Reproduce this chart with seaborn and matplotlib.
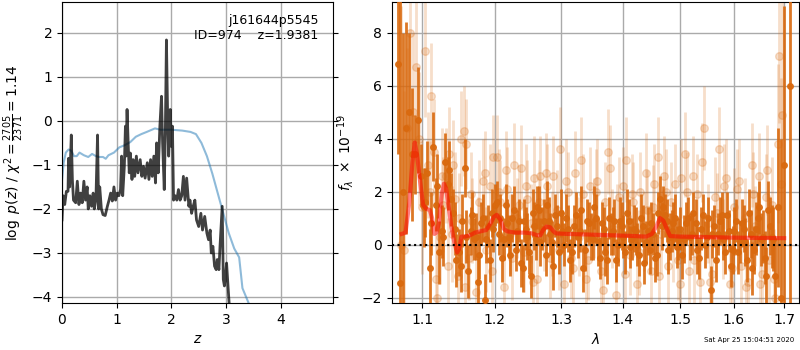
import numpy as np
import pandas as pd
import seaborn as sns
import matplotlib
matplotlib.use('Agg')
import matplotlib.pyplot as plt
from matplotlib.ticker import FixedLocator, FormatStrFormatter, NullLocator

# p(z) curve (log)
z_fit = [0.0, 0.02, 0.05, 0.08, 0.11, 0.12, 0.14, 0.17, 0.19, 0.21, 0.25, 0.28, 0.31, 0.34,
         0.37, 0.40, 0.43, 0.46, 0.48, 0.51, 0.54, 0.57, 0.59, 0.62, 0.65, 0.67, 0.69, 0.72,
         0.75, 0.79, 0.83, 0.86, 0.89, 0.92, 0.95, 0.98, 1.01, 1.04, 1.07, 1.09, 1.11, 1.14,
         1.16, 1.17, 1.19, 1.21, 1.23, 1.25, 1.28, 1.30, 1.33, 1.36, 1.39, 1.43, 1.46, 1.49,
         1.52, 1.56, 1.59, 1.62, 1.65, 1.68, 1.71, 1.73, 1.76, 1.79, 1.82, 1.84, 1.87, 1.89,
         1.91, 1.93, 1.95, 1.98, 2.00, 2.02, 2.04, 2.07, 2.10, 2.13, 2.16, 2.19, 2.22, 2.25,
         2.28, 2.32, 2.34, 2.37, 2.40, 2.43, 2.46, 2.50, 2.54, 2.57, 2.61, 2.65, 2.68, 2.71,
         2.73, 2.76, 2.79, 2.82, 2.84, 2.87, 2.89, 2.93, 2.95, 2.97, 2.99, 3.01, 3.04, 3.06,
         3.10, 3.30, 3.60, 4.00, 4.50, 4.95]
logpz = [-2.25, -1.70, -1.90, -1.60, -1.60, -0.85, -1.50, -0.32, -1.34, -1.80, -1.86, -1.37,
         -1.90, -1.64, -1.86, -1.37, -1.80, -1.50, -2.00, -1.70, -1.94, -1.64, -2.00, -1.80,
         -0.32, -2.00, -1.50, -2.00, -2.13, -2.15, -1.94, -1.80, -1.64, -1.82, -1.50, -1.80,
         -1.64, -1.70, -1.56, -0.80, -1.70, -1.03, -0.12, -0.80, 0.26, -0.50, -1.18, -0.73,
         -1.33, -0.88, -1.26, -0.80, -1.18, -0.88, -1.26, -1.03, -1.30, -0.95, -1.33, -0.88,
         -1.26, -0.80, -1.41, -0.50, -1.18, -0.12, 0.56, -0.50, -1.56, -0.27, 1.84, 0.26,
         -0.80, 0.26, -0.58, -0.12, -1.80, -1.70, -1.80, -1.56, -1.80, -1.70, -1.26, -1.80,
         -1.30, -1.94, -1.80, -2.10, -1.94, -1.80, -2.25, -2.40, -2.10, -2.48, -2.17, -2.55,
         -2.70, -2.48, -3.00, -2.85, -3.30, -3.38, -3.15, -3.38, -2.85, -1.94, -3.60, -3.75,
         -3.53, -3.23, -3.83, -4.20, -4.60, -5.50, -6.50, -7.50, -8.50, -9.50]

# smooth prior-like curve
z_prior = [0.0, 0.03, 0.07, 0.12, 0.17, 0.22, 0.27, 0.32, 0.40, 0.48, 0.55, 0.62, 0.68, 0.75,
           0.80, 0.85, 0.95, 1.05, 1.15, 1.25, 1.35, 1.45, 1.55, 1.70, 1.80, 2.00, 2.20, 2.35,
           2.45, 2.55, 2.65, 2.75, 2.85, 2.95, 3.05, 3.15, 3.24, 3.30, 3.40, 3.50, 4.00, 4.95]
logprior = [-1.35, -0.95, -0.72, -0.65, -0.68, -0.80, -0.80, -0.72, -0.78, -0.82, -0.75, -0.80,
            -0.82, -0.82, -0.86, -0.78, -0.72, -0.60, -0.55, -0.48, -0.36, -0.30, -0.25, -0.17,
            -0.20, -0.20, -0.22, -0.25, -0.30, -0.50, -0.80, -1.20, -1.65, -2.10, -2.55, -2.90,
            -3.10, -3.80, -4.10, -4.40, -5.60, -7.00]

# binned spectrum, first set
lam_bin = [1.068, 1.071, 1.075, 1.079, 1.083, 1.087, 1.090, 1.094, 1.098, 1.102, 1.106, 1.110,
           1.114, 1.118, 1.122, 1.126, 1.130, 1.134, 1.138, 1.142, 1.146, 1.150, 1.154, 1.158,
           1.162, 1.166, 1.171, 1.176, 1.181, 1.186, 1.191, 1.196, 1.201, 1.206, 1.211, 1.216,
           1.221, 1.226, 1.231, 1.236, 1.241, 1.246, 1.251, 1.256, 1.261, 1.266, 1.271, 1.276,
           1.281, 1.286, 1.291, 1.296, 1.302, 1.308, 1.314, 1.320, 1.326, 1.332, 1.338, 1.344,
           1.350, 1.356, 1.362, 1.368, 1.374, 1.380, 1.386, 1.392, 1.398, 1.404, 1.410, 1.416,
           1.422, 1.428, 1.434, 1.440, 1.446, 1.452, 1.458, 1.464, 1.470, 1.476, 1.482, 1.488,
           1.494, 1.500, 1.507, 1.514, 1.521, 1.528, 1.535, 1.542, 1.549, 1.556, 1.563, 1.570,
           1.577, 1.584, 1.591, 1.598, 1.605, 1.612, 1.619, 1.626, 1.633, 1.640, 1.647, 1.654,
           1.661, 1.668, 1.675, 1.682, 1.688, 1.694, 1.700, 1.712]
flux_bin = [6.8, -1.45, 2.0, 4.4, 5.0, 3.4, 3.4, 4.7, 2.6, 1.4, 2.7, -0.9,
            3.7, 1.5, -0.3, 0.5, 3.1, 2.3, 1.7, 1.2, -0.6, -0.3, 0.9, 2.9,
            -1.0, 0.5, 0.2, -1.4, 0.8, -2.1, 0.7, 1.2, 1.5, 0.4, -0.5, 1.5,
            0.3, 1.0, -0.2, 0.9, -0.9, 0.6, -0.3, 1.2, 0.2, 1.3, 0.6, -0.4,
            0.9, 0.1, 1.1, -0.3, 0.5, 1.0, -0.6, 0.7, 0.3, 1.3, -0.2, 0.8,
            0.2, 1.0, -0.5, 0.6, -0.6, 0.4, 0.9, 0.0, 0.7, -0.3, 0.9, 0.2,
            0.5, -0.4, 0.7, 0.1, -0.2, 0.4, -0.4, 1.7, 1.4, 0.9, 0.3, 0.8,
            -0.1, 0.6, 0.2, 1.0, 0.4, 0.8, -0.5, 1.1, 0.3, -1.7, 0.7, 0.4,
            1.1, -0.3, 0.5, -0.2, 0.9, 0.1, 0.6, -0.6, 0.4, -0.2, 1.0, 0.2,
            -0.5, 1.3, 0.3, -1.2, 1.4, -2.0, 3.0, 6.0]
err_bin = [3.4, 12.0, 6.0, 4.0, 3.0, 2.5, 1.5, 2.0, 1.2, 1.5, 1.2, 1.5,
           1.3, 1.0, 1.2, 1.0, 1.1, 1.0, 1.0, 0.9, 1.0, 0.9, 1.0, 1.1,
           1.0, 0.9, 0.8, 0.9, 0.8, 1.0, 0.8, 0.9, 0.8, 0.8, 0.9, 0.8,
           0.8, 0.9, 0.8, 0.8, 0.9, 0.8, 0.8, 0.9, 0.8, 0.9, 0.8, 0.8,
           0.9, 0.8, 0.8, 0.8, 0.8, 0.9, 0.8, 0.8, 0.8, 0.9, 0.8, 0.8,
           0.8, 0.9, 0.8, 0.8, 0.9, 0.8, 0.8, 0.8, 0.9, 0.8, 0.8, 0.8,
           0.9, 0.8, 0.8, 0.8, 0.9, 0.8, 0.8, 0.9, 0.8, 0.8, 0.9, 0.8,
           0.8, 0.8, 0.9, 0.8, 0.8, 0.9, 0.8, 0.8, 0.8, 0.9, 0.8, 0.8,
           0.9, 0.8, 0.8, 0.9, 0.8, 0.8, 0.9, 0.8, 0.9, 0.9, 1.0, 1.0,
           1.0, 1.1, 1.2, 1.4, 3.0, 6.0, 6.0, 12.0]

# binned spectrum, second set
lam_bin2 = [1.104, 1.112, 1.120, 1.128, 1.136, 1.144, 1.152, 1.160, 1.168, 1.173, 1.178, 1.183,
            1.188, 1.193, 1.198, 1.203, 1.208, 1.213, 1.218, 1.223, 1.228, 1.233, 1.238, 1.243,
            1.248, 1.253, 1.258, 1.263, 1.268, 1.273, 1.278, 1.283, 1.288, 1.293, 1.299, 1.305,
            1.311, 1.317, 1.323, 1.329, 1.335, 1.341, 1.347, 1.353, 1.359, 1.365, 1.371, 1.377,
            1.383, 1.389, 1.395, 1.401, 1.407, 1.413, 1.419, 1.425, 1.431, 1.437, 1.443, 1.449,
            1.455, 1.461, 1.467, 1.473, 1.479, 1.485, 1.491, 1.497, 1.503, 1.510, 1.517, 1.524,
            1.531, 1.538, 1.545, 1.552, 1.559, 1.566, 1.573, 1.580, 1.587, 1.594, 1.601, 1.608,
            1.615, 1.622, 1.629, 1.636, 1.643, 1.650, 1.657, 1.664, 1.671, 1.678]
flux_bin2 = [1.6, 0.8, 2.2, 0.3, 2.8, 0.6, -0.8, 0.3, 1.1, 0.3, -0.4, 1.0,
             0.2, -0.6, 0.6, 1.6, 1.0, 0.2, 0.8, -0.4, 1.3, 0.5, -0.7, 0.9,
             0.3, -1.2, 0.7, 1.4, 0.1, 0.9, 1.5, 0.4, -0.8, 0.7, 1.2, 0.0,
             0.6, -0.3, 1.1, 0.5, -0.9, 0.9, 0.3, 1.4, 0.1, 0.8, -0.3, 1.0,
             0.5, -0.6, 0.9, 0.3, 1.2, -0.1, 0.6, 0.0, 1.0, -0.7, 0.5, 0.8,
             -0.5, 1.2, 0.7, 1.1, -0.2, 0.5, 1.0, 0.2, -0.4, 0.8, 0.3, 1.2,
             -0.2, 0.6, 0.0, 1.0, 0.4, -0.6, 0.9, 0.2, 1.1, -0.8, 0.5, -0.3,
             0.8, 0.1, 1.2, -0.9, 0.6, 1.4, 0.3, -1.2, 0.7, 0.2]
err_bin2 = [1.3, 1.2, 1.2, 1.1, 1.1, 1.0, 1.0, 1.0, 0.9, 0.9, 0.9, 0.9,
            0.9, 0.8, 0.9, 0.8, 0.9, 0.8, 0.9, 0.8, 0.9, 0.8, 0.9, 0.8,
            0.9, 0.8, 0.9, 0.8, 0.9, 0.8, 0.9, 0.8, 0.9, 0.8, 0.9, 0.8,
            0.9, 0.8, 0.9, 0.8, 0.9, 0.8, 0.9, 0.8, 0.9, 0.8, 0.9, 0.8,
            0.9, 0.8, 0.9, 0.8, 0.9, 0.8, 0.9, 0.8, 0.9, 0.8, 0.9, 0.8,
            0.9, 0.8, 0.9, 0.8, 0.9, 0.8, 0.9, 0.8, 0.9, 0.8, 0.9, 0.8,
            0.9, 0.8, 0.9, 0.8, 0.9, 0.8, 0.9, 0.8, 0.9, 0.8, 0.9, 0.8,
            0.9, 0.9, 0.9, 1.0, 1.0, 1.0, 1.0, 1.1, 1.1, 1.2]

# unbinned spectrum, first set
lam_raw = [1.072, 1.076, 1.080, 1.084, 1.088, 1.092, 1.096, 1.100, 1.104, 1.108, 1.112, 1.116,
           1.120, 1.124, 1.128, 1.132, 1.136, 1.140, 1.144, 1.148, 1.152, 1.156, 1.160, 1.164,
           1.168, 1.173, 1.178, 1.183, 1.188, 1.193, 1.198, 1.203, 1.208, 1.213, 1.218, 1.223,
           1.228, 1.233, 1.238, 1.243, 1.248, 1.253, 1.258, 1.263, 1.268, 1.273, 1.278, 1.283,
           1.288, 1.293, 1.298, 1.304, 1.310, 1.316, 1.322, 1.328, 1.334, 1.340, 1.346, 1.352,
           1.358, 1.364, 1.370, 1.376, 1.382, 1.388, 1.394, 1.400, 1.406, 1.412, 1.418, 1.424,
           1.430, 1.436, 1.442, 1.448, 1.454, 1.460, 1.466, 1.472, 1.478, 1.484, 1.490, 1.496,
           1.502, 1.509, 1.516, 1.523, 1.530, 1.537, 1.544, 1.551, 1.558, 1.565, 1.572, 1.579,
           1.586, 1.593, 1.600, 1.607, 1.614, 1.621, 1.628, 1.635, 1.642, 1.649, 1.656, 1.663,
           1.670, 1.676, 1.682, 1.687, 1.690, 1.693, 1.696]
flux_raw = [0.0, -0.2, 4.4, 8.0, 5.0, 6.7, 4.0, 1.4, 7.3, 3.0, 5.6, 3.5,
            -2.0, 0.3, 1.5, 2.6, 3.4, 0.4, 1.7, -1.2, 4.0, 4.3, 3.8, -0.5,
            0.9, -1.8, 1.6, 2.4, -0.2, 2.2, 3.3, 3.3, 1.6, -1.6, 2.1, 0.4,
            3.0, 1.0, 2.9, -0.3, 1.7, 0.8, 2.5, -1.3, 2.6, 0.5, 2.2, -0.5,
            2.6, 1.3, 3.6, -1.5, 2.0, -0.5, 2.7, 0.3, 1.9, -1.3, 2.2, 1.0,
            2.4, -1.0, 1.6, 3.5, 0.6, -1.9, 1.8, 2.2, 3.2, -0.4, 1.6, -1.5,
            2.0, 0.5, 1.3, -1.0, 2.3, 3.3, 0.4, 2.6, -0.8, 1.6, 2.3, -0.6,
            2.5, 3.4, -1.0, 2.6, 1.9, -1.4, 4.4, 0.8, -1.1, 1.8, 3.6, 0.2,
            2.5, -1.5, 1.4, 2.1, -0.8, 1.0, -1.4, 3.0, 0.7, 2.6, -1.1, 1.8,
            -0.6, 1.5, -2.0, 3.8, 7.1, 2.3, 4.9]
err_raw = [9.0, 6.0, 3.0, 4.0, 3.0, 3.0, 2.5, 2.5, 2.5, 2.0, 2.0, 2.0,
           2.0, 1.8, 1.8, 1.8, 1.8, 1.8, 1.8, 1.8, 1.8, 1.7, 1.7, 1.6,
           1.6, 1.6, 1.6, 1.6, 1.6, 1.6, 1.6, 1.6, 1.6, 1.6, 1.6, 1.5,
           1.6, 1.5, 1.6, 1.5, 1.5, 1.5, 1.6, 1.5, 1.5, 1.5, 1.6, 1.5,
           1.5, 1.5, 1.6, 1.5, 1.5, 1.5, 1.6, 1.5, 1.5, 1.5, 1.5, 1.5,
           1.6, 1.5, 1.5, 1.6, 1.5, 1.5, 1.5, 1.5, 1.6, 1.5, 1.5, 1.5,
           1.5, 1.5, 1.5, 1.5, 1.5, 1.5, 1.5, 1.5, 1.5, 1.5, 1.5, 1.5,
           1.5, 1.6, 1.5, 1.5, 1.5, 1.5, 1.6, 1.5, 1.5, 1.5, 1.6, 1.5,
           1.5, 1.5, 1.5, 1.5, 1.5, 1.5, 1.5, 1.6, 1.5, 1.6, 1.5, 1.6,
           1.7, 1.8, 2.0, 3.0, 2.5, 4.0, 5.0]

# unbinned spectrum, second set
lam_raw2 = [1.110, 1.118, 1.126, 1.134, 1.142, 1.150, 1.158, 1.166, 1.176, 1.186, 1.196, 1.206,
            1.216, 1.226, 1.236, 1.246, 1.256, 1.266, 1.276, 1.286, 1.296, 1.307, 1.319, 1.331,
            1.343, 1.355, 1.367, 1.379, 1.391, 1.403, 1.415, 1.427, 1.439, 1.451, 1.463, 1.475,
            1.487, 1.499, 1.512, 1.526, 1.540, 1.554, 1.568, 1.582, 1.596, 1.610, 1.624, 1.638,
            1.652, 1.666, 1.679]
flux_raw2 = [2.0, -1.3, 2.6, -0.8, 3.0, 1.0, -1.6, 1.9, 0.2, 2.7, -1.0, 2.0,
             2.8, -0.5, 1.5, 2.2, -1.4, 1.6, 2.7, 0.4, -0.2, 2.4, -0.9, 3.2,
             -0.6, 2.0, -1.7, 2.9, 0.8, -1.1, 1.9, -0.3, 2.7, 1.4, -1.2, 2.0,
             0.1, -1.5, 2.0, -0.6, 3.1, -1.4, 1.2, 2.2, -0.9, 2.4, -1.6, 1.9,
             -1.5, 2.8, -1.3]
err_raw2 = [1.9, 1.8, 1.8, 1.8, 1.7, 1.7, 1.7, 1.6, 1.6, 1.6, 1.6, 1.6,
            1.5, 1.6, 1.5, 1.6, 1.5, 1.6, 1.5, 1.6, 1.5, 1.6, 1.5, 1.6,
            1.5, 1.6, 1.5, 1.6, 1.5, 1.6, 1.5, 1.6, 1.5, 1.6, 1.5, 1.6,
            1.5, 1.6, 1.5, 1.6, 1.5, 1.6, 1.5, 1.6, 1.5, 1.6, 1.5, 1.6,
            1.6, 1.7, 1.9]

# best-fit model
lam_model = [1.073, 1.078, 1.083, 1.087, 1.090, 1.093, 1.097, 1.101, 1.105, 1.110, 1.113, 1.116,
             1.119, 1.122, 1.126, 1.129, 1.132, 1.135, 1.139, 1.143, 1.147, 1.150, 1.153, 1.158,
             1.165, 1.172, 1.180, 1.188, 1.194, 1.199, 1.203, 1.208, 1.213, 1.218, 1.230, 1.245,
             1.255, 1.263, 1.268, 1.272, 1.277, 1.283, 1.288, 1.292, 1.310, 1.340, 1.380, 1.420,
             1.440, 1.450, 1.458, 1.464, 1.470, 1.476, 1.482, 1.500, 1.550, 1.600, 1.650, 1.700]
flux_model = [0.40, 0.45, 1.60, 3.10, 3.85, 3.40, 2.40, 1.50, 1.35, 1.30, 1.00, 0.40,
              0.45, 0.80, 1.90, 2.30, 2.10, 1.50, 0.70, 0.10, -0.30, -0.15, 0.30, 0.30,
              0.35, 0.45, 0.50, 0.55, 0.80, 1.05, 1.12, 0.95, 0.60, 0.50, 0.45, 0.45,
              0.42, 0.35, 0.35, 0.55, 0.68, 0.65, 0.50, 0.42, 0.40, 0.38, 0.35, 0.32,
              0.30, 0.40, 0.70, 1.00, 0.90, 0.60, 0.32, 0.30, 0.28, 0.26, 0.25, 0.24]

orange = '#d9690e'

fig = plt.figure(figsize=(8, 3.5), dpi=100)
ax1 = fig.add_axes([0.0775, 0.134, 0.339, 0.86])
ax2 = fig.add_axes([0.49, 0.134, 0.509, 0.86])

# --- left: redshift fit ---
sns.lineplot(x=z_prior, y=logprior, ax=ax1, color='tab:blue', alpha=0.5, lw=1.5)
sns.lineplot(x=z_fit, y=logpz, ax=ax1, color='k', alpha=0.75, lw=2)
ax1.set_xlim(0, 4.96)
ax1.set_ylim(-4.14, 2.70)
ax1.set_xticks([0, 1, 2, 3, 4])
ax1.set_yticks([-4, -3, -2, -1, 0, 1, 2])
ax1.grid(color='#aaaaaa', lw=1)
ax1.tick_params(right=True)
ax1.set_xlabel(r'$z$')
ax1.set_ylabel(r'$\log\ p(z)$' + ' / ' + r'$\chi^2=\frac{2705}{2371}=1.14$')
ax1.text(0.945, 0.96, 'j161644p5545\nID=974    z=1.9381', ha='right', va='top',
         transform=ax1.transAxes, fontsize=9)

# --- right: spectrum ---
for lam, flux, err in [(lam_raw, flux_raw, err_raw), (lam_raw2, flux_raw2, err_raw2)]:
    ax2.errorbar(lam, flux, yerr=err, fmt='o', color=orange, alpha=0.22,
                 ms=5.5, lw=2, zorder=2)
for lam, flux, err in [(lam_bin, flux_bin, err_bin), (lam_bin2, flux_bin2, err_bin2)]:
    ax2.errorbar(lam, flux, yerr=err, fmt='o', color=orange, alpha=0.9,
                 ms=4, lw=2, zorder=3)
sns.lineplot(x=lam_model, y=flux_model, ax=ax2, color='r', alpha=0.5, lw=3, zorder=4)
ax2.axhline(0, color='k', ls=':', lw=1.5, zorder=5)

ax2.set_xscale('log')
ax2.set_xlim(1.0606, 1.731)
ax2.set_ylim(-2.21, 9.15)
ax2.xaxis.set_major_locator(FixedLocator([1.1, 1.2, 1.3, 1.4, 1.5, 1.6, 1.7]))
ax2.xaxis.set_major_formatter(FormatStrFormatter('%.1f'))
ax2.xaxis.set_minor_locator(NullLocator())
ax2.set_yticks([-2, 0, 2, 4, 6, 8])
ax2.grid(color='#aaaaaa', lw=1)
ax2.set_xlabel(r'$\lambda$')
ax2.set_ylabel(r'$f_\lambda\ \times\ 10^{-19}$')

fig.text(0.993, 0.02, 'Sat Apr 25 15:04:51 2020', ha='right', va='bottom', fontsize=5)

fig.savefig('out.png', dpi=100)
